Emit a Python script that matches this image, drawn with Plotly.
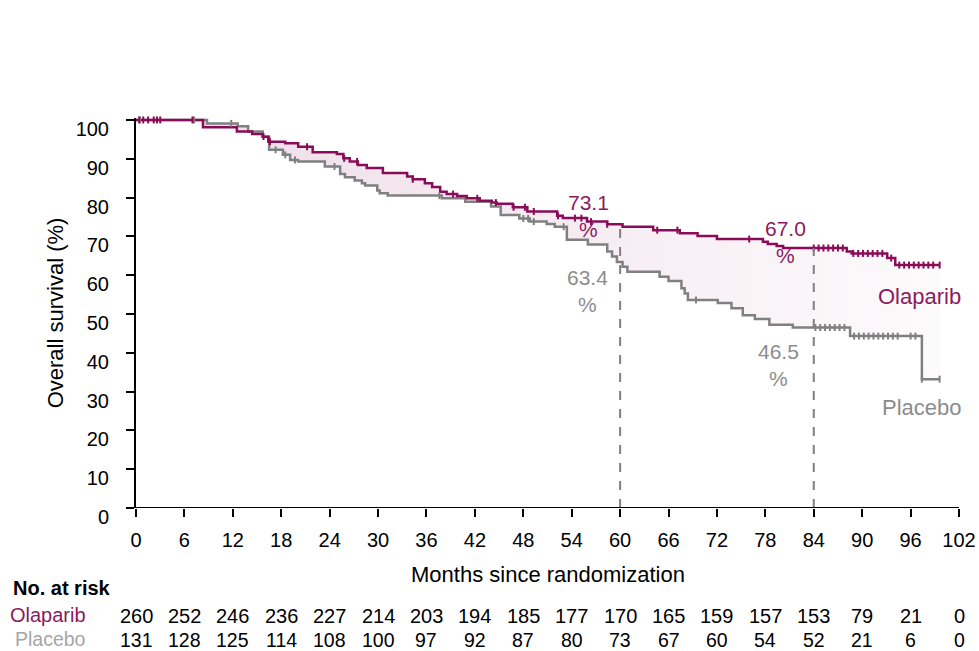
import plotly.graph_objects as go
import numpy as np

# ---- data ----
olap_t = [0, 8.3, 12.5, 14.4, 15.7, 16.4, 18.5, 20.1, 21.9, 24.9, 25.7, 26.5, 27.5, 28.6, 30.6,
          33.6, 34.3, 35.8, 36.7, 37.7, 38.5, 39.8, 41.0, 42.6, 44.1, 44.7, 46.7, 48.5, 52.2,
          52.9, 55.9, 58.4, 60.3, 64.1, 67.4, 69.6, 72.0, 77.7, 78.3, 79.4, 80.2, 88.1, 88.7,
          93.1, 94.1, 99.6]
olap_s = [100, 98.1, 97.0, 96.4, 95.7, 94.4, 94.0, 93.1, 91.7, 91.2, 90.1, 89.3, 88.4, 87.6, 86.3,
          85.4, 84.7, 83.7, 82.7, 81.5, 80.9, 80.4, 79.8, 79.2, 78.7, 78.4, 77.5, 76.4, 75.3,
          74.7, 73.8, 73.1, 72.5, 71.6, 70.8, 70.1, 69.3, 68.6, 68.0, 67.5, 67.0, 66.1, 65.6,
          64.4, 62.6, 62.6]

plac_t = [0, 8.8, 12.6, 13.9, 15.7, 16.5, 18.2, 19.1, 20.1, 23.4, 25.3, 25.9, 27.1, 28.0, 28.4,
          29.9, 30.2, 31.2, 37.9, 40.8, 44.0, 45.2, 47.5, 48.8, 50.9, 51.9, 53.4, 56.0, 58.4,
          59.0, 59.6, 60.3, 60.9, 64.9, 66.0, 67.6, 68.0, 68.4, 72.1, 73.8, 75.2, 76.7, 78.5,
          81.4, 88.5, 97.4, 99.6]
plac_s = [100, 99.1, 98.4, 97.0, 95.7, 92.3, 91.0, 89.7, 89.3, 88.0, 86.1, 85.2, 84.4, 83.7, 83.1,
          81.8, 81.1, 80.5, 79.8, 78.9, 77.7, 75.5, 74.6, 73.8, 73.2, 72.5, 69.1, 67.9, 66.1,
          64.8, 63.4, 62.2, 60.9, 59.6, 58.5, 56.6, 55.3, 53.6, 52.8, 51.5, 49.7, 48.7, 47.2,
          46.5, 44.3, 33.2, 33.2]

olap_cens = [0.4, 0.9, 1.5, 2.2, 2.6, 3.0, 7.0, 15.8, 16.6, 21.2, 25.8, 27.4, 34.3, 39.3, 42.3,
             44.6, 46.8, 48.2, 49.3, 52.3, 54.4, 55.2, 56.4, 58.4, 64.6, 67.1, 76.0, 84.0, 84.6,
             85.2, 85.8, 86.4, 87.0, 87.6, 88.9, 89.5, 90.1, 90.7, 91.3, 91.9, 92.5, 93.6, 94.6,
             95.2, 95.8, 96.4, 97.0, 97.6, 98.2, 98.8, 99.6]
plac_cens = [0.5, 7.2, 11.8, 17.3, 18.5, 19.7, 24.6, 37.6, 48.0, 48.6, 49.3, 53.0, 69.4, 84.2,
             84.8, 85.4, 86.0, 86.6, 87.2, 87.8, 89.0, 89.6, 90.2, 90.8, 91.4, 92.0, 92.6, 93.2,
             93.8, 94.4, 96.0, 96.6, 97.4, 99.6]

x_ticks = list(range(0, 103, 6))
y_ticks = list(range(0, 101, 10))
risk_olap = [260, 252, 246, 236, 227, 214, 203, 194, 185, 177, 170, 165, 159, 157, 153, 79, 21, 0]
risk_plac = [131, 128, 125, 114, 108, 100, 97, 92, 87, 80, 73, 67, 60, 54, 52, 21, 6, 0]

landmarks = [60, 84]
olap_landmark = [73.1, 67.0]
plac_landmark = [63.4, 46.5]

MAROON = "#8a0c59"
MAROON_TXT = "#8b1a5e"
GREY = "#808080"
GREY_TXT = "#8c8c8c"
FONT = "Liberation Sans, Arial, sans-serif"


def step_value(ts, ss, t):
    idx = np.searchsorted(np.array(ts), t, side="right") - 1
    return ss[max(idx, 0)]


fig = go.Figure()

fig.add_trace(go.Scatter(x=plac_t, y=plac_s, mode="lines", line=dict(color=GREY, width=2.5, shape="hv"),
                         showlegend=False, hoverinfo="skip"))
fig.add_trace(go.Scatter(x=olap_t, y=olap_s, mode="lines", line=dict(color=MAROON, width=2.5, shape="hv"),
                         fill="tonexty",
                         fillgradient=dict(type="horizontal",
                                           colorscale=[[0, "rgba(140,20,90,0.15)"], [1, "rgba(140,20,90,0.02)"]]),
                         showlegend=False, hoverinfo="skip"))

fig.add_trace(go.Scatter(x=plac_cens, y=[step_value(plac_t, plac_s, t) for t in plac_cens], mode="markers",
                         marker=dict(symbol="line-ns", size=5, line=dict(color=GREY, width=2)),
                         showlegend=False, hoverinfo="skip", cliponaxis=False))
fig.add_trace(go.Scatter(x=olap_cens, y=[step_value(olap_t, olap_s, t) for t in olap_cens], mode="markers",
                         marker=dict(symbol="line-ns", size=5, line=dict(color=MAROON, width=2)),
                         showlegend=False, hoverinfo="skip", cliponaxis=False))

for xm, yv in zip(landmarks, olap_landmark):
    fig.add_shape(type="line", x0=xm, x1=xm, y0=0, y1=yv, xref="x", yref="y",
                  line=dict(color=GREY, width=2, dash="dash"))

# x-axis line slightly extended left
fig.add_shape(type="line", x0=-0.9, x1=102, y0=0, y1=0, xref="x", yref="y", line=dict(color="black", width=2))

anns = []
anns.append(dict(x=56.1, y=75.3, text=f"{olap_landmark[0]:.1f}<br>%", font=dict(color=MAROON_TXT, size=21)))
anns.append(dict(x=55.9, y=55.8, text=f"{plac_landmark[0]:.1f}<br>%", font=dict(color=GREY_TXT, size=21)))
anns.append(dict(x=80.5, y=68.6, text=f"{olap_landmark[1]:.1f}<br>%", font=dict(color=MAROON_TXT, size=21)))
anns.append(dict(x=79.6, y=36.9, text=f"{plac_landmark[1]:.1f}<br>%", font=dict(color=GREY_TXT, size=21)))
anns.append(dict(x=97.1, y=54.4, text="Olaparib", font=dict(color=MAROON_TXT, size=22)))
anns.append(dict(x=97.4, y=25.8, text="Placebo", font=dict(color=GREY_TXT, size=22)))
for a in anns:
    a.update(xref="x", yref="y", showarrow=False, xanchor="center", yanchor="middle")

# axis title
anns.append(dict(x=0.5, y=-0.171, xref="paper", yref="paper", text="Months since randomization",
                 showarrow=False, xanchor="center", yanchor="middle", font=dict(size=22, color="black")))
# at-risk table
for xv, r1, r2 in zip(x_ticks, risk_olap, risk_plac):
    anns.append(dict(x=xv, y=-0.276, xref="x", yref="paper", text=str(r1), showarrow=False,
                     xanchor="center", yanchor="middle", font=dict(size=20, color="black")))
    anns.append(dict(x=xv, y=-0.338, xref="x", yref="paper", text=str(r2), showarrow=False,
                     xanchor="center", yanchor="middle", font=dict(size=19.5, color="black")))

anns.append(dict(x=-0.1522, y=-0.205, xref="paper", yref="paper", text="<b>No. at risk</b>", showarrow=False,
                 xanchor="left", yanchor="middle", font=dict(size=20, color="black")))
anns.append(dict(x=-0.0583, y=-0.274, xref="paper", yref="paper", text="Olaparib", showarrow=False,
                 xanchor="right", yanchor="middle", font=dict(size=20, color=MAROON_TXT)))
anns.append(dict(x=-0.0583, y=-0.336, xref="paper", yref="paper", text="Placebo", showarrow=False,
                 xanchor="right", yanchor="middle", font=dict(size=19.5, color="#a6a6a6")))

fig.update_layout(
    width=979, height=651,
    margin=dict(l=136, r=20, t=118, b=143, autoexpand=False),
    plot_bgcolor="white", paper_bgcolor="white",
    font=dict(family=FONT, size=20, color="black"),
    annotations=anns,
    xaxis=dict(range=[0, 102], tickvals=x_ticks, ticktext=[str(v) for v in x_ticks],
               showline=False, ticks="outside", ticklen=8, tickwidth=2, tickcolor="black",
               showgrid=False, zeroline=False, tickfont=dict(size=20), ticklabelstandoff=6),
    yaxis=dict(range=[0, 100.5], tickvals=y_ticks, showline=True, linecolor="black", linewidth=2,
               ticks="outside", ticklen=8, tickwidth=2, tickcolor="black", showgrid=False, zeroline=False,
               tickfont=dict(size=20), ticklabelshift=9, ticklabelstandoff=13,
               title=dict(text="Overall survival (%)", font=dict(size=22), standoff=6)),
)

fig.write_html("out.html", config={"displayModeBar": False})

# remove default page margin so the figure sits at the window's top-left corner
with open("out.html", "r", encoding="utf-8") as f:
    html = f.read()
html = html.replace("<head>", "<head><style>html,body{margin:0;padding:0;overflow:hidden;}</style>", 1)
with open("out.html", "w", encoding="utf-8") as f:
    f.write(html)
